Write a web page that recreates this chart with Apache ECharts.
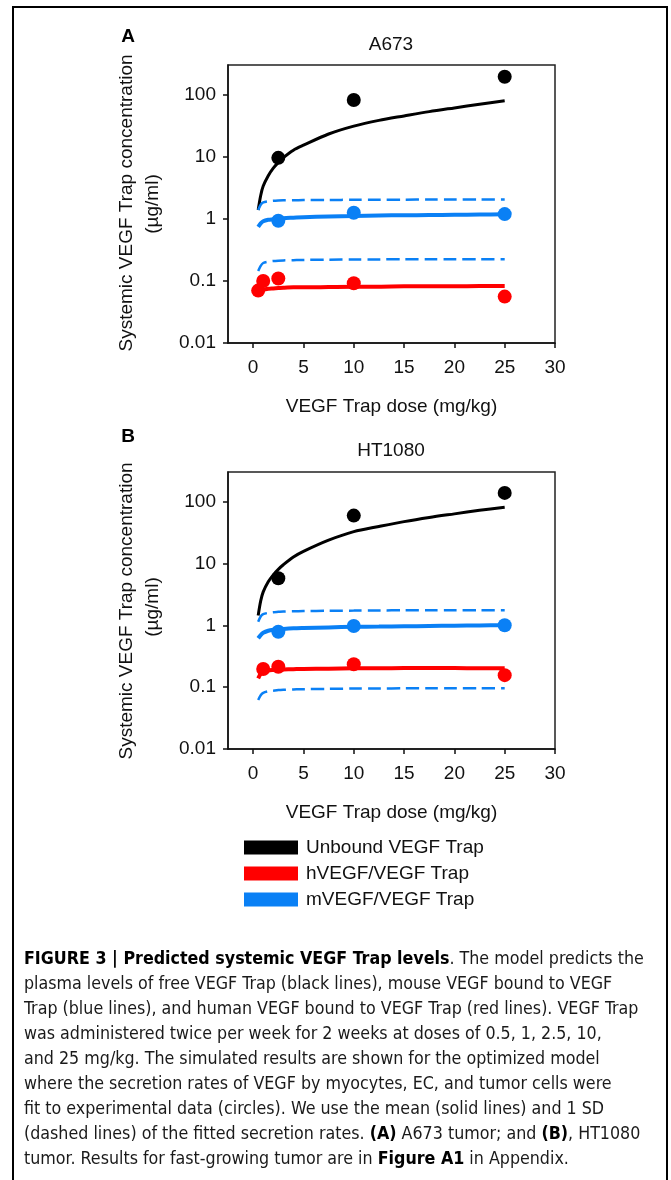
<!DOCTYPE html>
<html>
<head>
<meta charset="utf-8">
<script src="https://cdn.jsdelivr.net/npm/echarts@6/dist/echarts.min.js"></script>
<style>
html,body{margin:0;padding:0;background:#fff;}
#chart{width:671px;height:1180px;}
</style>
</head>
<body>
<div id="chart"></div>
<script>
// ---------- data ----------
const panelTitles = ['A673', 'HT1080'];
const panelLetters = ['A', 'B'];
const xTickValues = [0, 5, 10, 15, 20, 25, 30];
const seriesNames = ['Unbound VEGF Trap', 'hVEGF/VEGF Trap', 'mVEGF/VEGF Trap'];

// simulated (fitted) curves, sampled doses
const doseFit = [0.5, 0.75, 1, 1.5, 2, 2.5, 3, 4, 5, 7.5, 10, 12.5, 15, 17.5, 20, 22.5, 25];
// Panel A (A673)
const unboundFitA = [1.4, 2.4, 3.4, 5.0, 6.6, 8.2, 9.8, 12.9, 15.5, 23.5, 31.5, 39, 46, 54, 62, 71, 81];
const mFitA = [0.75, 0.85, 0.92, 0.97, 0.99, 1.01, 1.03, 1.05, 1.07, 1.1, 1.12, 1.14, 1.15, 1.16, 1.17, 1.18, 1.19];
const mUpperA = [1.4, 1.7, 1.85, 1.93, 1.97, 1.99, 2.0, 2.01, 2.02, 2.03, 2.04, 2.05, 2.05, 2.06, 2.06, 2.07, 2.07];
const mLowerA = [0.145, 0.175, 0.195, 0.205, 0.21, 0.213, 0.215, 0.217, 0.219, 0.221, 0.222, 0.223, 0.224, 0.224, 0.225, 0.225, 0.225];
const hFitA = [0.06, 0.068, 0.072, 0.075, 0.076, 0.077, 0.078, 0.079, 0.079, 0.08, 0.081, 0.081, 0.082, 0.082, 0.082, 0.083, 0.083];
// Panel B (HT1080)
const unboundFitB = [1.45, 2.5, 3.5, 5.1, 6.6, 8.1, 9.6, 12.8, 15.8, 24, 33, 40, 48, 56, 64, 73, 82];
const mFitB = [0.62, 0.7, 0.76, 0.82, 0.85, 0.865, 0.88, 0.9, 0.91, 0.93, 0.95, 0.96, 0.97, 0.98, 0.99, 1.0, 1.01];
const mUpperB = [1.15, 1.4, 1.52, 1.6, 1.64, 1.66, 1.68, 1.7, 1.71, 1.73, 1.74, 1.75, 1.76, 1.76, 1.77, 1.77, 1.77];
const mLowerB = [0.062, 0.074, 0.081, 0.086, 0.088, 0.09, 0.091, 0.092, 0.093, 0.094, 0.095, 0.095, 0.096, 0.096, 0.096, 0.096, 0.096];
const hFitB = [0.139, 0.165, 0.178, 0.187, 0.19, 0.192, 0.194, 0.196, 0.198, 0.2, 0.202, 0.203, 0.204, 0.204, 0.204, 0.203, 0.202];

// experimental data (circles)
const doseUnboundObs = [2.5, 10, 25];
const unboundObsA = [9.7, 83, 197];
const unboundObsB = [5.8, 60, 140];
const doseMObs = [2.5, 10, 25];
const mObsA = [0.94, 1.26, 1.2];
const mObsB = [0.79, 0.98, 1.01];
const doseHObsA = [0.5, 1, 2.5, 10, 25];
const hObsA = [0.07, 0.1, 0.11, 0.092, 0.056];
const doseHObsB = [1, 2.5, 10, 25];
const hObsB = [0.197, 0.215, 0.235, 0.157];

const captionLines = [
  '{b|FIGURE 3 | Predicted systemic VEGF Trap levels}. The model predicts the',
  'plasma levels of free VEGF Trap (black lines), mouse VEGF bound to VEGF',
  'Trap (blue lines), and human VEGF bound to VEGF Trap (red lines). VEGF Trap',
  'was administered twice per week for 2 weeks at doses of 0.5, 1, 2.5, 10,',
  'and 25 mg/kg. The simulated results are shown for the optimized model',
  'where the secretion rates of VEGF by myocytes, EC, and tumor cells were',
  'fit to experimental data (circles). We use the mean (solid lines) and 1 SD',
  '(dashed lines) of the fitted secretion rates. {b|(A)} A673 tumor; and {b|(B)}, HT1080',
  'tumor. Results for fast-growing tumor are in {b|Figure A1} in Appendix.'
];

// ---------- build ----------
const FONT = 'Liberation Sans, Arial, sans-serif';
const CAPFONT = '"DejaVu Sans Condensed", "Liberation Sans", sans-serif';
const BLACK = '#000000', RED = '#ff0000', BLUE = '#0a80f5';
const pair = (xs, ys) => xs.map((x, i) => [x, ys[i]]);

const grids = [
  {left: 228, top: 65, width: 327, height: 278},
  {left: 228, top: 472, width: 327, height: 277}
];

const xAxes = grids.map((g, i) => ({
  type: 'value', gridIndex: i, min: -2.5, max: 30,
  name: 'VEGF Trap dose (mg/kg)', nameLocation: 'middle', nameGap: 54,
  nameTextStyle: {fontSize: 19, fontFamily: FONT, color: '#111'},
  axisLine: {show: true, onZero: false, lineStyle: {color: '#111', width: 1.5}},
  axisTick: {show: true, customValues: xTickValues, length: 5, lineStyle: {color: '#111', width: 1.5}},
  axisLabel: {customValues: xTickValues, fontSize: 19, fontFamily: FONT, color: '#111', margin: 15},
  splitLine: {show: false}
}));

const yAxes = grids.map((g, i) => ({
  type: 'log', logBase: 10, gridIndex: i, min: 0.01, max: 305,
  axisLine: {show: true, onZero: false, lineStyle: {color: '#111', width: 1.5}},
  axisTick: {show: true, length: 5, lineStyle: {color: '#111', width: 1.5}},
  axisLabel: {fontSize: 19, fontFamily: FONT, color: '#111', margin: 12, showMaxLabel: false,
    formatter: v => { const l = Math.log10(v); return Math.abs(l - Math.round(l)) < 1e-6 ? String(v) : ''; }},
  splitLine: {show: false}
}));

function lineSeries(name, gi, ys, color, width, dashed) {
  return {
    type: 'line', name, xAxisIndex: gi, yAxisIndex: gi,
    data: pair(doseFit, ys), smooth: 0.3, showSymbol: false, symbol: 'none',
    lineStyle: {color, width, type: dashed ? [13, 6] : 'solid', cap: 'butt'},
    itemStyle: {color}, z: 2, silent: true
  };
}
function dotSeries(name, gi, xs, ys, color) {
  return {
    type: 'scatter', name, xAxisIndex: gi, yAxisIndex: gi,
    data: pair(xs, ys), symbol: 'circle', symbolSize: 14,
    itemStyle: {color, opacity: 1}, z: 4, silent: true
  };
}

const series = [
  // panel A
  lineSeries(seriesNames[0], 0, unboundFitA, BLACK, 3),
  lineSeries(seriesNames[1], 0, hFitA, RED, 4),
  lineSeries(seriesNames[2], 0, mFitA, BLUE, 4),
  lineSeries(seriesNames[2], 0, mUpperA, BLUE, 2.5, true),
  lineSeries(seriesNames[2], 0, mLowerA, BLUE, 2.5, true),
  dotSeries(seriesNames[0], 0, doseUnboundObs, unboundObsA, BLACK),
  dotSeries(seriesNames[1], 0, doseHObsA, hObsA, RED),
  dotSeries(seriesNames[2], 0, doseMObs, mObsA, BLUE),
  // panel B
  lineSeries(seriesNames[0], 1, unboundFitB, BLACK, 3),
  lineSeries(seriesNames[1], 1, hFitB, RED, 4),
  lineSeries(seriesNames[2], 1, mFitB, BLUE, 4),
  lineSeries(seriesNames[2], 1, mUpperB, BLUE, 2.5, true),
  lineSeries(seriesNames[2], 1, mLowerB, BLUE, 2.5, true),
  dotSeries(seriesNames[0], 1, doseUnboundObs, unboundObsB, BLACK),
  dotSeries(seriesNames[1], 1, doseHObsB, hObsB, RED),
  dotSeries(seriesNames[2], 1, doseMObs, mObsB, BLUE)
];

const graphic = [
  {type: 'rect', shape: {x: 13, y: 7, width: 654, height: 1200}, style: {fill: 'none', stroke: '#000', lineWidth: 2}, z: 10, silent: true}
];
const titleY = [45, 451];
const letterY = [37, 437];
const yTitleC = [[203, 204], [611, 607]];
for (let i = 0; i < 2; i++) {
  graphic.push({type: 'text', x: 391, y: titleY[i], style: {text: panelTitles[i], fontSize: 19, fontFamily: FONT, fill: '#111', align: 'center', verticalAlign: 'middle'}});
  graphic.push({type: 'text', x: 128, y: letterY[i], style: {text: panelLetters[i], fontSize: 19, fontWeight: 'bold', fontFamily: FONT, fill: '#000', align: 'center', verticalAlign: 'middle'}});
  graphic.push({type: 'text', x: 127, y: yTitleC[i][0], rotation: Math.PI / 2, style: {text: 'Systemic VEGF Trap concentration', fontSize: 19, fontFamily: FONT, fill: '#111', align: 'center', verticalAlign: 'middle'}});
  graphic.push({type: 'text', x: 153, y: yTitleC[i][1], rotation: Math.PI / 2, style: {text: '(\u00b5g/ml)', fontSize: 19, fontFamily: FONT, fill: '#111', align: 'center', verticalAlign: 'middle'}});
}
graphic.push({
  type: 'text', x: 24, y: 947,
  style: {
    text: captionLines.join('\n'), fontSize: 17.7, fontFamily: CAPFONT, fill: '#1a1a1a', lineHeight: 25,
    rich: {b: {fontWeight: 'bold', fontSize: 17.7, fontFamily: CAPFONT, fill: '#000', lineHeight: 25}}
  }
});

const chart = echarts.init(document.getElementById('chart'), null, {renderer: 'canvas'});
chart.setOption({
  animation: false,
  backgroundColor: '#ffffff',
  grid: grids.map(g => Object.assign({show: true, borderColor: '#222', borderWidth: 1.5, backgroundColor: 'transparent'}, g)),
  xAxis: xAxes,
  yAxis: yAxes,
  legend: {
    data: seriesNames, orient: 'vertical', left: 244, top: 838, padding: 0,
    icon: 'rect', itemWidth: 54, itemHeight: 14, itemGap: 7,
    textStyle: {fontSize: 19, fontFamily: FONT, color: '#111', padding: [0, 0, 0, 3]},
    selectedMode: false
  },
  series,
  graphic
});
</script>
</body>
</html>
